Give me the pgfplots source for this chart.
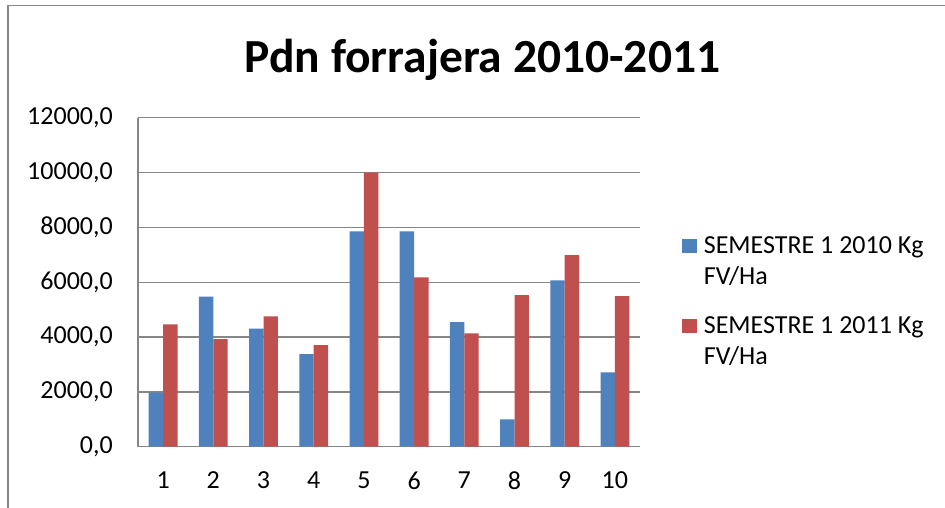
\documentclass[border=0pt]{standalone}
\usepackage{fontspec}
\setmainfont{Carlito}
\usepackage{pgfplots}
\pgfplotsset{compat=1.18}
\definecolor{xlblue}{HTML}{4F81BD}
\definecolor{xlred}{HTML}{C0504D}
\definecolor{xlgrid}{HTML}{868686}
\begin{document}
\fontsize{26bp}{31.5bp}\selectfont
\begin{tikzpicture}
\useasboundingbox (0,0) rectangle (945bp,508bp);
\fill[white] (0,0) rectangle (945bp,508bp);
\draw[xlgrid, line width=1.5bp] (8bp,0) -- (8bp,502.5bp) -- (945bp,502.5bp);
\node[font=\bfseries\fontsize{47.5bp}{52bp}\selectfont, anchor=base] at (482.5bp,435bp) {Pdn forrajera 2010-2011};
\begin{axis}[
  at={(138bp,61.3bp)}, anchor=south west,
  scale only axis, width=502bp, height=329bp,
  ybar=0pt, bar width=14.4bp,
  xmin=0.5, xmax=10.5, ymin=0, ymax=12000,
  xtick={1,2,3,4,5,6,7,8,9,10},
  ytick={0,2000,4000,6000,8000,10000,12000},
  scaled y ticks=false,
  axis x line*=bottom, axis y line*=left,
  axis line style={xlgrid, line width=1.3bp},
  ymajorgrids, grid style={xlgrid, line width=1.3bp},
  major tick length=0pt, tick style={draw=none},
  /pgf/number format/assume math mode=true,
  yticklabel style={/pgf/number format/fixed, /pgf/number format/fixed zerofill, /pgf/number format/precision=1, /pgf/number format/use comma, /pgf/number format/1000 sep={}},
  every y tick label/.append style={inner sep=0pt, anchor=east, xshift=-25bp},
  every x tick label/.append style={inner sep=0pt, anchor=north, yshift=-25bp},
  legend image code/.code={\fill[#1] (0bp,0bp) rectangle (14.5bp,14.5bp);},
  legend style={draw=none, fill=none, inner sep=0pt, outer sep=0pt,
    at={(1.0837,0.639)}, anchor=north west,
    nodes={inner sep=0pt, outer sep=0pt},
    cells={anchor=base west},
    column sep=7.3bp, row sep=59bp},
]
\addplot[fill=xlblue, draw=none] coordinates {(1,1970) (2,5470) (3,4305) (4,3380) (5,7855) (6,7855) (7,4548) (8,997) (9,6068) (10,2712)};
\addlegendentry{\vtop{\hbox{SEMESTRE 1 2010 Kg}\hbox{FV/Ha}}}
\addplot[fill=xlred, draw=none] coordinates {(1,4463) (2,3928) (3,4755) (4,3709) (5,10000) (6,6177) (7,4134) (8,5533) (9,6992) (10,5496)};
\addlegendentry{\vtop{\hbox{SEMESTRE 1 2011 Kg}\hbox{FV/Ha}}}
\end{axis}
\end{tikzpicture}
\end{document}
